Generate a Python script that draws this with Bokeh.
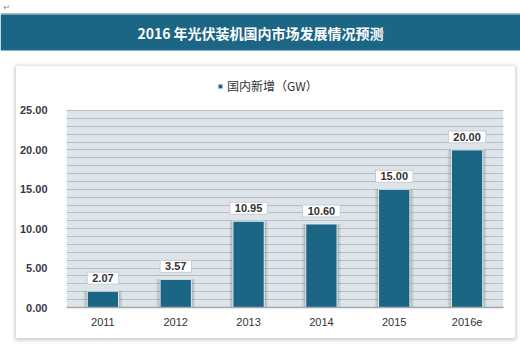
from bokeh.plotting import figure
from bokeh.layouts import column
from bokeh.models import (FactorRange, Range1d, SingleIntervalTicker, NumeralTickFormatter,
                          Legend, LegendItem, ColumnDataSource, BoxAnnotation)
from bokeh.core.properties import value
from bokeh.embed import file_html
from bokeh.resources import INLINE

title_text = "2016 年光伏装机国内市场发展情况预测"
series_name = "国内新增（GW）"
categories = ["2011", "2012", "2013", "2014", "2015", "2016e"]
values = [2.07, 3.57, 10.95, 10.60, 15.00, 20.00]
value_labels = ["2.07", "3.57", "10.95", "10.60", "15.00", "20.00"]
y_max = 25

BAR = "#1b6585"
CJK = "Noto Sans CJK SC"
NUM = "Liberation Sans"

# ---------- header band ----------
h = figure(width=520, height=60, x_range=Range1d(0, 520), y_range=Range1d(60, 0),
           output_backend="svg", toolbar_location=None, min_border=0,
           x_axis_type=None, y_axis_type=None, frame_align=False)
h.outline_line_color = None
h.background_fill_color = "white"
h.border_fill_color = "white"
h.grid.visible = False
h.quad(left=[0], right=[520], top=[12.5], bottom=[14], fill_color="#a9bac4", line_color=None)
h.quad(left=[0], right=[520], top=[14], bottom=[50], fill_color=BAR, line_color=None)
h.text(x=[260], y=[32], text=[title_text], text_font=value(CJK), text_font_size="14px",
       text_font_style="bold", text_color="white", text_align="center", text_baseline="middle")
h.text(x=[378], y=[33], text=["↵"], text_font=value("DejaVu Sans"), text_font_size="8px",
       text_color="#9aa8b0", text_align="left", text_baseline="middle")
h.text(x=[3], y=[7], text=["↵"], text_font=value("DejaVu Sans"), text_font_size="8px",
       text_color="#888888", text_align="left", text_baseline="middle")

# ---------- main chart card ----------
src = ColumnDataSource(dict(cat=categories, val=values, lab=value_labels))

p = figure(width=499, height=272, x_range=FactorRange(*categories, range_padding=0),
           y_range=Range1d(0, 29.82), output_backend="svg", toolbar_location=None,
           min_border_left=50, min_border_right=12, min_border_top=6, min_border_bottom=31,
           margin=(6, 0, 0, 16), frame_align=False,
           styles={"box-shadow": "0px 1px 4px 1px rgba(0,0,0,0.22)"})
p.background_fill_color = "white"
p.border_fill_color = "white"
p.outline_line_color = None

# plot-area background (0..25)
p.add_layout(BoxAnnotation(bottom=0, top=y_max, fill_color="#dde4ea", fill_alpha=1,
                           line_color=None, level="image"))

p.yaxis.ticker = SingleIntervalTicker(interval=5, num_minor_ticks=5)
p.yaxis.bounds = (0, y_max)
p.yaxis.formatter = NumeralTickFormatter(format="0.00")
p.yaxis.axis_line_color = None
p.yaxis.major_tick_line_color = None
p.yaxis.minor_tick_line_color = None
p.yaxis.major_tick_out = 0
p.yaxis.major_tick_in = 0
p.yaxis.major_label_standoff = 15
p.yaxis.major_label_text_font = NUM
p.yaxis.major_label_text_font_size = "11px"
p.yaxis.major_label_text_font_style = "bold"
p.yaxis.major_label_text_color = "#3a3a48"

p.xaxis.axis_line_color = "#a3a8ad"
p.xaxis.axis_line_width = 1.5
p.xaxis.major_tick_line_color = None
p.xaxis.minor_tick_line_color = None
p.xaxis.major_tick_out = 0
p.xaxis.major_label_standoff = 10
p.xaxis.major_label_text_font = NUM
p.xaxis.major_label_text_font_size = "11px"
p.xaxis.major_label_text_color = "#333333"

p.xgrid.grid_line_color = None
p.ygrid.bounds = (0, y_max)
p.ygrid.grid_line_color = "#b5bdc5"
p.ygrid.minor_grid_line_color = "#b5bdc5"
p.ygrid.grid_line_width = 1.2
p.ygrid.minor_grid_line_width = 1.2

p.vbar(x="cat", top="val", width=0.53, source=src, fill_color="black", fill_alpha=0.08, line_color=None)
p.vbar(x="cat", top="val", width=0.48, source=src, fill_color="black", fill_alpha=0.12, line_color=None)
bars = p.vbar(x="cat", top="val", width=0.43, source=src, fill_color=BAR,
              line_color="#e4ebf0", line_width=1)

p.text(x="cat", y="val", text="lab", source=src, y_offset=-7,
       text_font=value(NUM), text_font_size="11px", text_font_style="bold",
       text_color="#333333", text_align="center", text_baseline="bottom",
       background_fill_color="white", border_line_color="#c9cdd1", border_line_width=1,
       padding=dict(left=5, right=5, top=2, bottom=2))

legend = Legend(items=[LegendItem(label=series_name, renderers=[bars])],
                location=(151, 213), orientation="horizontal",
                glyph_width=6, glyph_height=6, label_standoff=4, padding=0, margin=0,
                label_text_font=CJK, label_text_font_size="12px", label_text_color="#333333",
                background_fill_alpha=0, border_line_color=None)
p.add_layout(legend, "center")

layout = column(h, p, spacing=0)
open("out.html", "w").write(file_html(layout, INLINE))
